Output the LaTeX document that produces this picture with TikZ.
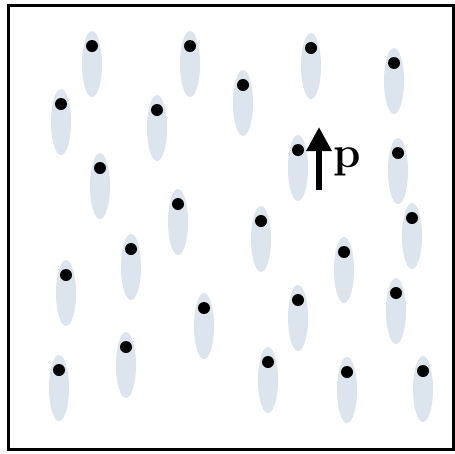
\RequirePackage{fix-cm}
\documentclass[tikz,border=0pt]{standalone}
\usetikzlibrary{arrows.meta}
\definecolor{blob}{HTML}{DCE4EE}
\tikzset{
  blobshape/.style={fill=blob, draw=none},
  dotshape/.style={fill=black, draw=none},
  framebox/.style={draw=black, line width=3pt},
}
\begin{document}
\begin{tikzpicture}[x=1pt,y=-1pt]
\useasboundingbox (0,0) rectangle (455,453);
\draw[framebox] (8.5,5) rectangle (453,449.5);
\foreach \dx/\dy in {92/46,190/46,311/48,394/63,61/104,157/110,243/85,298/150,398/153,100/168,178/204,261/221,412/218,131/249,66/275,344/252,298/300,396/293,204/308,126/347,59/370,268/362,347/372,423/371}{
  \fill[blobshape] (\dx,\dy+18) ellipse [x radius=10, y radius=33];
  \fill[dotshape] (\dx,\dy) circle [radius=6];
}
\coordinate (ptail) at (319,190);
\coordinate (ptip) at (319,127);
\draw[line width=6.5pt, -{Triangle[length=24pt,width=24pt]}] (ptail) -- (ptip);
\node[anchor=base west, inner sep=0pt, font=\fontsize{44}{44}\selectfont\bfseries] (plabel) at (333,167) {p};
\end{tikzpicture}
\end{document}
